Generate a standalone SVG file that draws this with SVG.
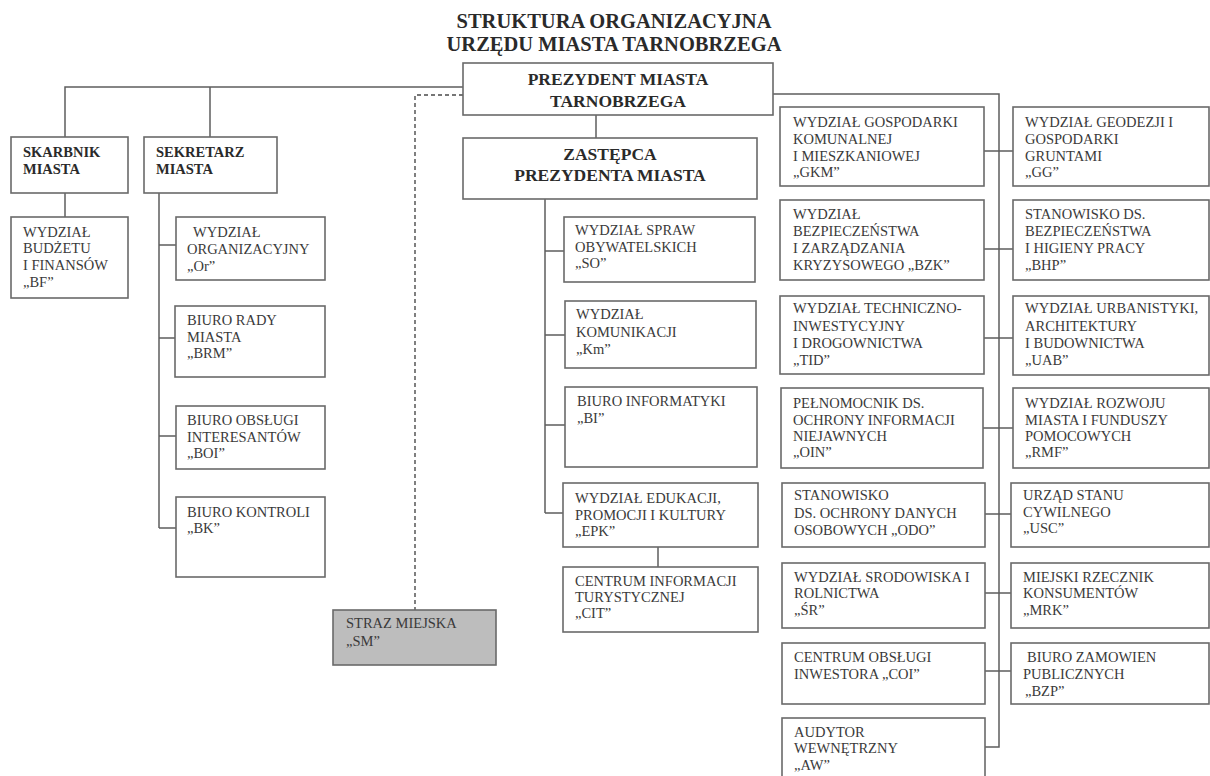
<svg xmlns="http://www.w3.org/2000/svg" width="1210" height="776" viewBox="0 0 1210 776">
<style>
  .bg { fill: #ffffff; }
  .box { fill: #ffffff; stroke: #6a6a6a; stroke-width: 1.6; }
  .grey { fill: #bdbdbd; stroke: #6a6a6a; stroke-width: 1.6; }
  .ln { fill: none; stroke: #5e5e5e; stroke-width: 1.5; }
  .dash { fill: none; stroke: #4a4a4a; stroke-width: 1.4; stroke-dasharray: 4 3; }
  .t { font-family: "Liberation Serif", "Times New Roman", serif; font-size: 14.5px; fill: #3a3a3a; }
  .b { font-family: "Liberation Serif", "Times New Roman", serif; font-size: 14.5px; font-weight: bold; fill: #2a2a2a; }
  .h { font-family: "Liberation Serif", "Times New Roman", serif; font-size: 17.5px; font-weight: bold; fill: #2a2a2a; text-anchor: middle; }
  .title { font-family: "Liberation Serif", "Times New Roman", serif; font-size: 20.5px; font-weight: bold; fill: #2a2a2a; text-anchor: middle; }
</style>
<rect class="bg" x="0" y="0" width="1210" height="776"/>

<g id="title">
  <text class="title" x="614" y="28">STRUKTURA ORGANIZACYJNA</text>
  <text class="title" x="614" y="51">URZĘDU MIASTA TARNOBRZEGA</text>
</g>

<g id="connectors">
  <path class="ln" d="M463,87 H65 V137 M210,87 V137"/>
  <path class="dash" d="M463,95 H415 V610"/>
  <path class="ln" d="M596,115 V138"/>
  <path class="ln" d="M65,193 V217"/>
  <path class="ln" d="M159,193 V528 M159,245 H176 M159,338 H175 M159,436 H176 M159,528 H176"/>
  <path class="ln" d="M545,199 V513 M545,251 H564 M545,335 H565 M545,425 H565 M545,513 H563"/>
  <path class="ln" d="M658,547 V567"/>
  <path class="ln" d="M773,94 H999 V747 H985"/>
  <path class="ln" d="M984,151 H1013 M984,249 H1013 M984,338 H1013 M983,428 H1013 M985,514 H1011 M985,593 H1011 M985,671 H1011"/>
</g>

<g id="prezydent">
  <rect class="box" x="463" y="63" width="310" height="52"/>
  <text class="h" x="618" y="85">PREZYDENT MIASTA</text>
  <text class="h" x="618" y="107">TARNOBRZEGA</text>
</g>

<g id="skarbnik">
  <rect class="box" x="11" y="137" width="117" height="56"/>
  <text class="b" x="23" y="157">SKARBNIK</text>
  <text class="b" x="23" y="174">MIASTA</text>
</g>

<g id="sekretarz">
  <rect class="box" x="144" y="137" width="133" height="56"/>
  <text class="b" x="156" y="157">SEKRETARZ</text>
  <text class="b" x="156" y="174">MIASTA</text>
</g>

<g id="bf">
  <rect class="box" x="11" y="217" width="117" height="81"/>
  <text class="t" x="23" y="237">WYDZIAŁ</text>
  <text class="t" x="23" y="253">BUDŻETU</text>
  <text class="t" x="23" y="270">I FINANSÓW</text>
  <text class="t" x="23" y="287">„BF”</text>
</g>

<g id="or">
  <rect class="box" x="176" y="217" width="149" height="63"/>
  <text class="t" x="193" y="237">WYDZIAŁ</text>
  <text class="t" x="187" y="254">ORGANIZACYJNY</text>
  <text class="t" x="187" y="271">„Or”</text>
</g>

<g id="brm">
  <rect class="box" x="175" y="306" width="150" height="71"/>
  <text class="t" x="187" y="325">BIURO RADY</text>
  <text class="t" x="187" y="342">MIASTA</text>
  <text class="t" x="187" y="358">„BRM”</text>
</g>

<g id="boi">
  <rect class="box" x="176" y="406" width="149" height="63"/>
  <text class="t" x="187" y="425">BIURO OBSŁUGI</text>
  <text class="t" x="187" y="442">INTERESANTÓW</text>
  <text class="t" x="187" y="458">„BOI”</text>
</g>

<g id="bk">
  <rect class="box" x="176" y="497" width="149" height="80"/>
  <text class="t" x="187" y="517">BIURO KONTROLI</text>
  <text class="t" x="187" y="533">„BK”</text>
</g>

<g id="sm">
  <rect class="grey" x="333" y="610" width="163" height="55"/>
  <text class="t" x="346" y="628">STRAZ MIEJSKA</text>
  <text class="t" x="346" y="646">„SM”</text>
</g>

<g id="zastepca">
  <rect class="box" x="463" y="138" width="294" height="61"/>
  <text class="h" x="610" y="160">ZASTĘPCA</text>
  <text class="h" x="610" y="181">PREZYDENTA MIASTA</text>
</g>

<g id="so">
  <rect class="box" x="564" y="217" width="191" height="65"/>
  <text class="t" x="575" y="235">WYDZIAŁ SPRAW</text>
  <text class="t" x="575" y="252">OBYWATELSKICH</text>
  <text class="t" x="575" y="268">„SO”</text>
</g>

<g id="km">
  <rect class="box" x="565" y="301" width="191" height="67"/>
  <text class="t" x="576" y="319">WYDZIAŁ</text>
  <text class="t" x="576" y="337">KOMUNIKACJI</text>
  <text class="t" x="576" y="354">„Km”</text>
</g>

<g id="bi">
  <rect class="box" x="565" y="387" width="192" height="80"/>
  <text class="t" x="577" y="406">BIURO INFORMATYKI</text>
  <text class="t" x="577" y="423">„BI”</text>
</g>

<g id="epk">
  <rect class="box" x="563" y="483" width="195" height="64"/>
  <text class="t" x="575" y="503">WYDZIAŁ EDUKACJI,</text>
  <text class="t" x="575" y="520">PROMOCJI I KULTURY</text>
  <text class="t" x="575" y="536">„EPK”</text>
</g>

<g id="cit">
  <rect class="box" x="563" y="567" width="195" height="65"/>
  <text class="t" x="575" y="586">CENTRUM INFORMACJI</text>
  <text class="t" x="575" y="602">TURYSTYCZNEJ</text>
  <text class="t" x="575" y="618">„CIT”</text>
</g>

<g id="gkm">
  <rect class="box" x="780" y="107" width="204" height="79"/>
  <text class="t" x="793" y="127">WYDZIAŁ GOSPODARKI</text>
  <text class="t" x="793" y="144">KOMUNALNEJ</text>
  <text class="t" x="793" y="161">I  MIESZKANIOWEJ</text>
  <text class="t" x="793" y="177">„GKM”</text>
</g>

<g id="gg">
  <rect class="box" x="1013" y="107" width="196" height="79"/>
  <text class="t" x="1025" y="127">WYDZIAŁ GEODEZJI I</text>
  <text class="t" x="1025" y="144">GOSPODARKI</text>
  <text class="t" x="1025" y="161">GRUNTAMI</text>
  <text class="t" x="1025" y="177">„GG”</text>
</g>

<g id="bzk">
  <rect class="box" x="780" y="200" width="204" height="80"/>
  <text class="t" x="793" y="219">WYDZIAŁ</text>
  <text class="t" x="793" y="236">BEZPIECZEŃSTWA</text>
  <text class="t" x="793" y="253">I ZARZĄDZANIA</text>
  <text class="t" x="793" y="270">KRYZYSOWEGO „BZK”</text>
</g>

<g id="bhp">
  <rect class="box" x="1013" y="200" width="196" height="80"/>
  <text class="t" x="1025" y="219">STANOWISKO DS.</text>
  <text class="t" x="1025" y="236">BEZPIECZEŃSTWA</text>
  <text class="t" x="1025" y="253">I HIGIENY PRACY</text>
  <text class="t" x="1025" y="270">„BHP”</text>
</g>

<g id="tid">
  <rect class="box" x="780" y="296" width="204" height="78"/>
  <text class="t" x="793" y="313">WYDZIAŁ TECHNICZNO-</text>
  <text class="t" x="793" y="331">INWESTYCYJNY</text>
  <text class="t" x="793" y="348">I DROGOWNICTWA</text>
  <text class="t" x="793" y="365">„TID”</text>
</g>

<g id="uab">
  <rect class="box" x="1013" y="296" width="196" height="79"/>
  <text class="t" x="1025" y="313">WYDZIAŁ URBANISTYKI,</text>
  <text class="t" x="1025" y="331">ARCHITEKTURY</text>
  <text class="t" x="1025" y="348">I BUDOWNICTWA</text>
  <text class="t" x="1025" y="365">„UAB”</text>
</g>

<g id="oin">
  <rect class="box" x="781" y="388" width="202" height="80"/>
  <text class="t" x="793" y="408">PEŁNOMOCNIK DS.</text>
  <text class="t" x="793" y="425">OCHRONY INFORMACJI</text>
  <text class="t" x="793" y="441">NIEJAWNYCH</text>
  <text class="t" x="793" y="457">„OIN”</text>
</g>

<g id="rmf">
  <rect class="box" x="1013" y="388" width="196" height="80"/>
  <text class="t" x="1025" y="408">WYDZIAŁ ROZWOJU</text>
  <text class="t" x="1025" y="425">MIASTA I FUNDUSZY</text>
  <text class="t" x="1025" y="441">POMOCOWYCH</text>
  <text class="t" x="1025" y="457">„RMF”</text>
</g>

<g id="odo">
  <rect class="box" x="782" y="483" width="203" height="64"/>
  <text class="t" x="794" y="500">STANOWISKO</text>
  <text class="t" x="794" y="518">DS. OCHRONY DANYCH</text>
  <text class="t" x="794" y="535">OSOBOWYCH „ODO”</text>
</g>

<g id="usc">
  <rect class="box" x="1011" y="483" width="198" height="64"/>
  <text class="t" x="1023" y="500">URZĄD STANU</text>
  <text class="t" x="1023" y="517">CYWILNEGO</text>
  <text class="t" x="1023" y="533">„USC”</text>
</g>

<g id="sr">
  <rect class="box" x="782" y="563" width="203" height="65"/>
  <text class="t" x="794" y="582">WYDZIAŁ SRODOWISKA I</text>
  <text class="t" x="794" y="598">ROLNICTWA</text>
  <text class="t" x="794" y="615">„ŚR”</text>
</g>

<g id="mrk">
  <rect class="box" x="1011" y="563" width="198" height="65"/>
  <text class="t" x="1023" y="582">MIEJSKI RZECZNIK</text>
  <text class="t" x="1023" y="598">KONSUMENTÓW</text>
  <text class="t" x="1023" y="615">„MRK”</text>
</g>

<g id="coi">
  <rect class="box" x="782" y="643" width="203" height="61"/>
  <text class="t" x="794" y="662">CENTRUM OBSŁUGI</text>
  <text class="t" x="794" y="679">INWESTORA „COI”</text>
</g>

<g id="bzp">
  <rect class="box" x="1011" y="643" width="198" height="61"/>
  <text class="t" x="1027" y="662">BIURO ZAMOWIEN</text>
  <text class="t" x="1023" y="679">PUBLICZNYCH</text>
  <text class="t" x="1025" y="696">„BZP”</text>
</g>

<g id="aw">
  <rect class="box" x="782" y="718" width="203" height="62"/>
  <text class="t" x="794" y="737">AUDYTOR</text>
  <text class="t" x="794" y="753">WEWNĘTRZNY</text>
  <text class="t" x="794" y="770">„AW”</text>
</g>
</svg>
